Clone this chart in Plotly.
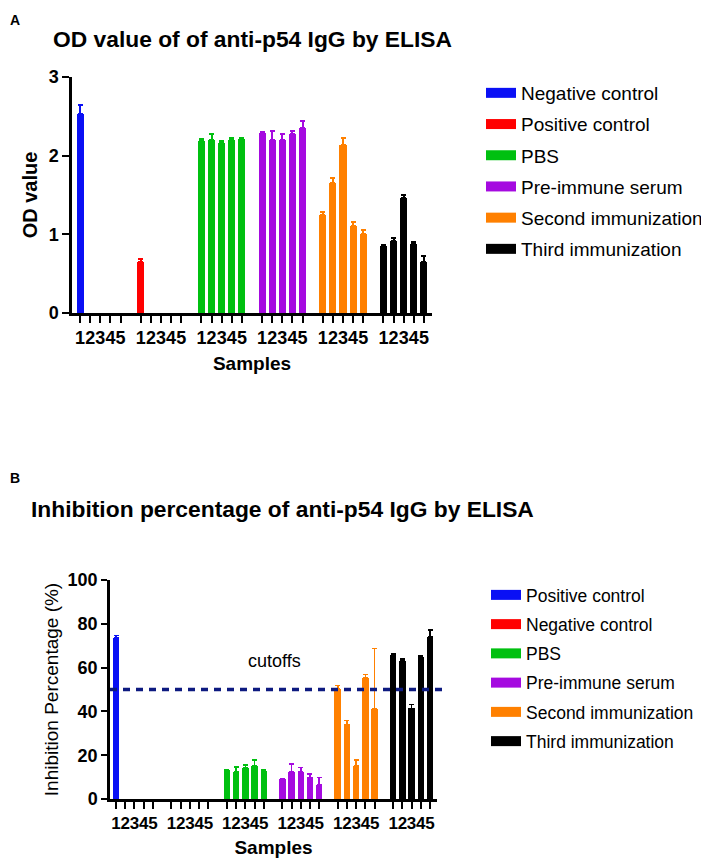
import plotly.graph_objects as go
from plotly.subplots import make_subplots

# ---- data ----
samples = ['1', '2', '3', '4', '5']

groups_a = ['Negative control', 'Positive control', 'PBS', 'Pre-immune serum',
            'Second immunization', 'Third immunization']
od_neg = [2.53, None, None, None, None]
od_pos = [0.65, None, None, None, None]
od_pbs = [2.19, 2.20, 2.16, 2.20, 2.21]
od_pre = [2.29, 2.20, 2.20, 2.27, 2.35]
od_second = [1.25, 1.65, 2.13, 1.11, 1.01]
od_third = [0.85, 0.92, 1.46, 0.88, 0.65]
od_neg_err = [0.11, 0, 0, 0, 0]
od_pos_err = [0.04, 0, 0, 0, 0]
od_pbs_err = [0.02, 0.07, 0.03, 0.02, 0.02]
od_pre_err = [0.01, 0.11, 0.07, 0.04, 0.09]
od_second_err = [0.04, 0.06, 0.09, 0.05, 0.05]
od_third_err = [0.02, 0.03, 0.04, 0.02, 0.08]

groups_b = ['Positive control', 'Negative control', 'PBS', 'Pre-immune serum',
            'Second immunization', 'Third immunization']
inh_pos = [73.7, None, None, None, None]
inh_neg = [None, None, None, None, None]
inh_pbs = [13.2, 12.4, 14.3, 15.1, 12.6]
inh_pre = [9.1, 12.5, 12.5, 9.9, 6.5]
inh_second = [50.2, 34.1, 15.1, 55.4, 41.1]
inh_third = [65.9, 63.2, 41.4, 64.7, 74.1]
inh_pos_err = [0.9, 0, 0, 0, 0]
inh_neg_err = [0, 0, 0, 0, 0]
inh_pbs_err = [0.3, 2.2, 1.1, 2.7, 0.7]
inh_pre_err = [0.3, 3.5, 1.8, 1.5, 3.4]
inh_second_err = [1.7, 1.8, 2.7, 1.5, 27.7]
inh_third_err = [0.4, 0.8, 1.8, 0.6, 3.1]
cutoff = 50

colors = ['#0a10f5', '#ff0000', '#00c010', '#a50ae0', '#ff8000', '#000000']

od_vals = [od_neg, od_pos, od_pbs, od_pre, od_second, od_third]
od_errs = [od_neg_err, od_pos_err, od_pbs_err, od_pre_err, od_second_err, od_third_err]
inh_vals = [inh_pos, inh_neg, inh_pbs, inh_pre, inh_second, inh_third]
inh_errs = [inh_pos_err, inh_neg_err, inh_pbs_err, inh_pre_err, inh_second_err, inh_third_err]

FONT = 'Arial, Liberation Sans, sans-serif'
# the page body has an 8px margin, so the figure is 8px smaller each way
OFF = 8
W, H = 709 - OFF, 861 - OFF


def px_x(v):
    return (v - OFF) / W


def px_y(v):
    return 1 - (v - OFF) / H


fig = make_subplots(rows=2, cols=1)


# slot positions: 5 samples + one empty slot between groups
def slots(g):
    return [g * 6 + i for i in range(len(samples))]


tickvals = [x for g in range(6) for x in slots(g)]
ticktext = samples * 6

for g, name in enumerate(groups_a):
    fig.add_trace(go.Bar(
        x=slots(g), y=od_vals[g], width=0.7, marker_color=colors[g],
        marker_line_width=0, showlegend=False, legendgroup='a' + name,
        error_y=dict(type='data', array=od_errs[g], arrayminus=[0] * 5,
                     symmetric=False, color=colors[g], thickness=2, width=2.5),
    ), row=1, col=1)
    # legend swatch
    fig.add_trace(go.Scatter(
        x=[None], y=[None], mode='lines', name=name, legendgroup='a' + name,
        line=dict(color=colors[g], width=11), legend='legend',
    ), row=1, col=1)

for g, name in enumerate(groups_b):
    fig.add_trace(go.Bar(
        x=slots(g), y=inh_vals[g], width=0.7, marker_color=colors[g],
        marker_line_width=0, showlegend=False, legendgroup='b' + name,
        error_y=dict(type='data', array=inh_errs[g], arrayminus=[0] * 5,
                     symmetric=False, color=colors[g], thickness=1.6, width=2.5),
    ), row=2, col=1)
    fig.add_trace(go.Scatter(
        x=[None], y=[None], mode='lines', name=name, legendgroup='b' + name,
        line=dict(color=colors[g], width=11), legend='legend2',
    ), row=2, col=1)

# cutoff line
fig.add_shape(type='line', xref='x2 domain', yref='y2', x0=0, x1=1.02,
              y0=cutoff, y1=cutoff,
              line=dict(color='#0d1a80', width=3.5, dash='7px,6px'))

axis_common = dict(showline=True, linecolor='black', linewidth=2.5,
                   ticks='outside', tickcolor='black', tickwidth=2, ticklen=7,
                   showgrid=False, zeroline=False, automargin=False, tickangle=0,
                   tickfont=dict(family=FONT, size=18, color='black', weight='bold'))

fig.update_xaxes(axis_common)
fig.update_yaxes(axis_common)

fig.update_layout(
    xaxis=dict(domain=[px_x(72), px_x(432)], range=[-0.8, 34.8], tickmode='array',
               tickvals=tickvals, ticktext=ticktext,
               title=dict(text='Samples', standoff=10,
                          font=dict(family=FONT, size=19, color='black', weight='bold'))),
    yaxis=dict(domain=[px_y(313), px_y(77)], range=[0, 3], tickvals=[0, 1, 2, 3],
               title=dict(text='OD value', standoff=6,
                          font=dict(family=FONT, size=20, color='black', weight='bold'))),
    xaxis2=dict(domain=[px_x(110), px_x(437)], range=[-0.65, 34.75], tickmode='array',
                tickvals=tickvals, ticktext=ticktext, tickfont=dict(size=17),
                title=dict(text='Samples', standoff=9,
                           font=dict(family=FONT, size=19, color='black', weight='bold'))),
    yaxis2=dict(domain=[px_y(799), px_y(580)], range=[0, 100],
                tickvals=[0, 20, 40, 60, 80, 100], ticklen=6, tickfont=dict(size=18),
                title=dict(text='Inhibition Percentage (%)', standoff=4,
                           font=dict(family=FONT, size=19, color='black'))),
    legend=dict(x=px_x(481), xanchor='left', y=px_y(74), yanchor='top',
                font=dict(family=FONT, size=19, color='black'),
                tracegroupgap=3.5, bgcolor='rgba(0,0,0,0)'),
    legend2=dict(x=px_x(486), xanchor='left', y=px_y(577), yanchor='top',
                 font=dict(family=FONT, size=17.5, color='black'),
                 tracegroupgap=3.5, bgcolor='rgba(0,0,0,0)'),
    width=W, height=H,
    margin=dict(l=0, r=0, t=0, b=0, autoexpand=False),
    plot_bgcolor='white', paper_bgcolor='white',
    bargap=0,
)

fig.add_annotation(text='<b>A</b>', x=px_x(8), y=px_y(20), xref='paper', yref='paper',
                   xanchor='left', yanchor='middle', showarrow=False,
                   font=dict(family=FONT, size=14, color='black'))
fig.add_annotation(text='<b>B</b>', x=px_x(8), y=px_y(478), xref='paper', yref='paper',
                   xanchor='left', yanchor='middle', showarrow=False,
                   font=dict(family=FONT, size=14, color='black'))
fig.add_annotation(text='<b>OD value of of anti-p54 IgG by ELISA</b>', x=px_x(51), y=px_y(39),
                   xref='paper', yref='paper', xanchor='left', yanchor='middle',
                   showarrow=False, font=dict(family=FONT, size=22.8, color='black'))
fig.add_annotation(text='<b>Inhibition percentage of anti-p54 IgG by ELISA</b>', x=px_x(29),
                   y=px_y(509), xref='paper', yref='paper', xanchor='left', yanchor='middle',
                   showarrow=False, font=dict(family=FONT, size=22.8, color='black'))
fig.add_annotation(text='cutoffs', x=px_x(274), y=px_y(661), xref='paper', yref='paper',
                   yanchor='middle', showarrow=False,
                   font=dict(family=FONT, size=18, color='black'))

fig.write_html("out.html")
